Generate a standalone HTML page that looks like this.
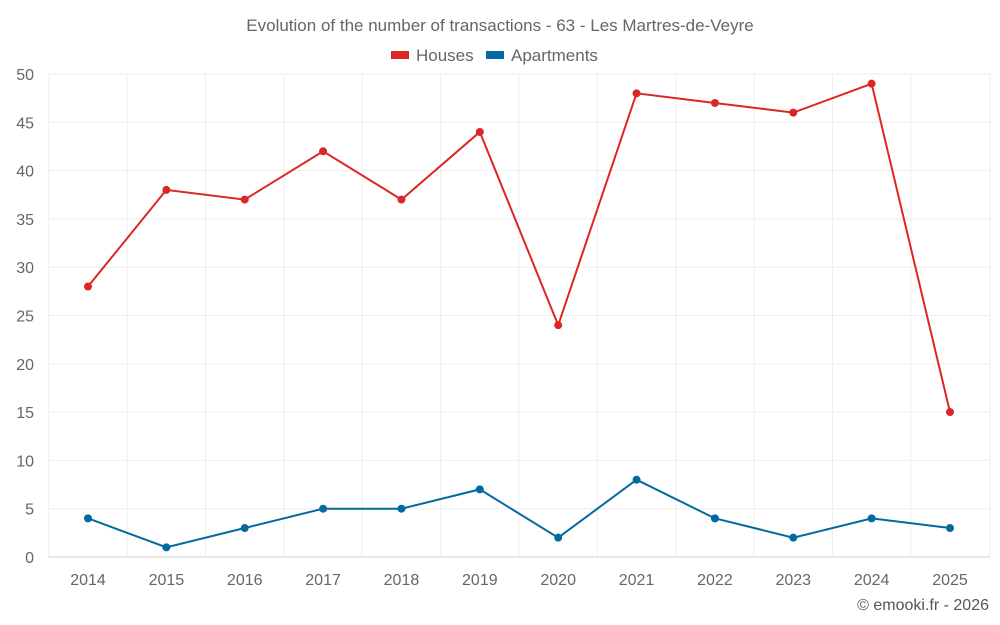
<!DOCTYPE html>
<html><head><meta charset="utf-8"><style>
body{margin:0;background:#fff;font-family:"Liberation Sans",sans-serif;}
svg{display:block}
</style></head><body>
<svg id="c" width="1000" height="625" xmlns="http://www.w3.org/2000/svg">
<text x="500" y="31" text-anchor="middle" font-size="17" fill="#666">Evolution of the number of transactions - 63 - Les Martres-de-Veyre</text>
<g>
<g><rect x="391" y="51" width="18" height="8" fill="#dc2626"/><text x="416" y="61" font-size="17" fill="#666">Houses</text></g>
<g><rect x="486" y="51" width="18" height="8" fill="#0369a1"/><text x="511" y="61" font-size="17" fill="#666">Apartments</text></g>
</g>
<g id="grid"></g><g id="axes"></g><g id="series"></g>
<text x="989" y="610" text-anchor="end" font-size="16" fill="#555">© emooki.fr - 2026</text>
</svg>
<script>
const years=[2014,2015,2016,2017,2018,2019,2020,2021,2022,2023,2024,2025];
const houses=[28,38,37,42,37,44,24,48,47,46,49,15];
const apartments=[4,1,3,5,5,7,2,8,4,2,4,3];
const yTicks=[0,5,10,15,20,25,30,35,40,45,50];
const NS="http://www.w3.org/2000/svg";
const L=48,R=990,T=74,B=557;
const x=i=>88+i*(950-88)/(years.length-1);
const y=v=>B-(v/50)*(B-T);
function mk(t,a,p){const e=document.createElementNS(NS,t);for(const k in a)e.setAttribute(k,a[k]);p.appendChild(e);return e;}
const g=document.getElementById('grid'),ax=document.getElementById('axes'),s=document.getElementById('series');
yTicks.forEach(v=>{
 const l=mk('line',{x1:L,x2:R,y1:y(v),y2:y(v),stroke:v===0?'#ccc':'#eee','stroke-width':1},g);
 
 
 const t=mk('text',{x:34,y:y(v)+6,'text-anchor':'end','font-size':16,fill:'#666'},ax);t.textContent=v;
 
 
});
years.forEach((yr,i)=>{
 const l=mk('line',{x1:x(i)-39.2,x2:x(i)-39.2,y1:T,y2:B,stroke:'#eee'},g);
 
 
 const t=mk('text',{x:x(i),y:585,'text-anchor':'middle','font-size':16,fill:'#666'},ax);t.textContent=yr;
 
 
});
mk('line',{x1:R,x2:R,y1:T,y2:B,stroke:'#eee'},g);
function series(data,color,name){
 const p=mk('polyline',{points:data.map((v,i)=>x(i)+','+y(v)).join(' '),fill:'none',stroke:color,'stroke-width':2},s);
 
 
 data.forEach((v,i)=>{const c=mk('circle',{cx:x(i),cy:y(v),r:4,fill:color},s);
 
 });
}
series(houses,'#dc2626','houses');
series(apartments,'#0369a1','apartments');
</script>
</body></html>
